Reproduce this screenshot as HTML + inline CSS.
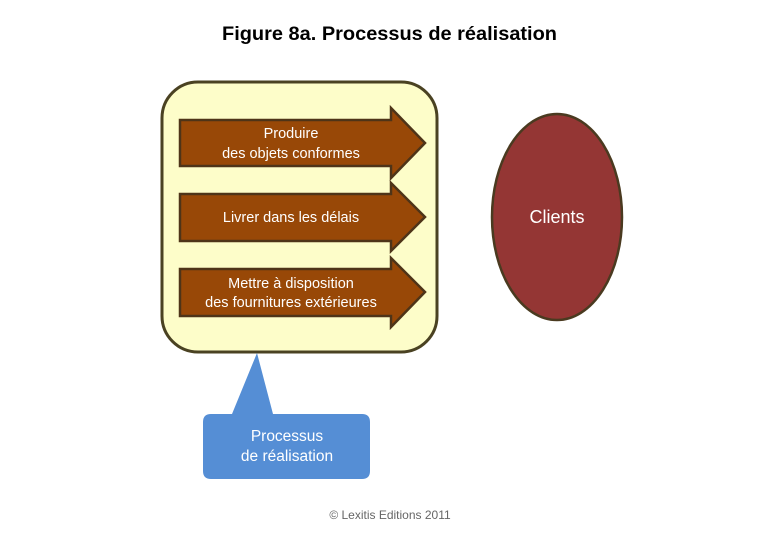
<!DOCTYPE html>
<html><head><meta charset="utf-8"><style>
body{margin:0;background:#fff}
svg text{font-family:"Liberation Sans",sans-serif}
</style></head><body>
<svg width="780" height="540" viewBox="0 0 780 540" xmlns="http://www.w3.org/2000/svg">
<text x="222" y="40" font-size="19" font-weight="bold" fill="#000" textLength="335" lengthAdjust="spacingAndGlyphs">Figure 8a. Processus de réalisation</text>
<rect x="162" y="82" width="275" height="270" rx="36" fill="#fdfdc9" stroke="#4a4222" stroke-width="3"/>
<g fill="#984807" stroke="#4e3418" stroke-width="2.5">
<polygon points="180,120 391,120 391,108 425,143 391,178 391,166 180,166"/>
<polygon points="180,194 391,194 391,183 425,217 391,251 391,241 180,241"/>
<polygon points="180,269 391,269 391,258 425,292 391,327 391,316 180,316"/>
</g>
<g fill="#fff" font-size="14.5" text-anchor="middle">
<text x="291" y="138">Produire</text>
<text x="291" y="158">des objets conformes</text>
<text x="291" y="222">Livrer dans les délais</text>
<text x="291" y="288">Mettre à disposition</text>
<text x="291" y="307">des fournitures extérieures</text>
</g>
<ellipse cx="557" cy="217" rx="65" ry="103" fill="#943634" stroke="#4a3a20" stroke-width="2.5"/>
<text x="557" y="223" text-anchor="middle" font-size="18" fill="#fff">Clients</text>
<path d="M257,353 L273,414 L362,414 Q370,414 370,422 L370,471 Q370,479 362,479 L211,479 Q203,479 203,471 L203,422 Q203,414 211,414 L232,414 Z" fill="#558ed5"/>
<text x="287" y="441" text-anchor="middle" font-size="15.5" fill="#fff">Processus</text>
<text x="287" y="461" text-anchor="middle" font-size="15.5" fill="#fff">de réalisation</text>
<text x="390" y="519" text-anchor="middle" font-size="12" fill="#666">© Lexitis Editions 2011</text>
</svg>
</body></html>
